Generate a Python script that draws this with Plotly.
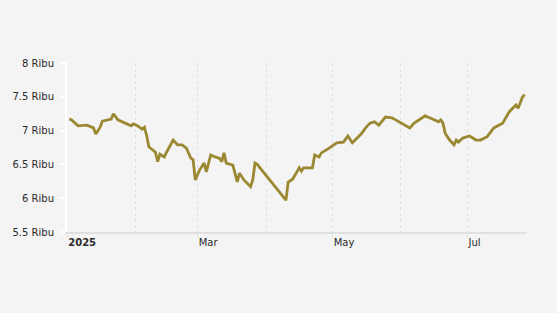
import plotly.graph_objects as go

dates = [
    "2025-01-02", "2025-01-03", "2025-01-06", "2025-01-08", "2025-01-10", "2025-01-13",
    "2025-01-14", "2025-01-16", "2025-01-17", "2025-01-21", "2025-01-22", "2025-01-24",
    "2025-01-30", "2025-01-31", "2025-02-02", "2025-02-04", "2025-02-05", "2025-02-06",
    "2025-02-07", "2025-02-10", "2025-02-11", "2025-02-12", "2025-02-14", "2025-02-15",
    "2025-02-18", "2025-02-20", "2025-02-22", "2025-02-24", "2025-02-26", "2025-02-27",
    "2025-02-28", "2025-03-02", "2025-03-04", "2025-03-05", "2025-03-06", "2025-03-07",
    "2025-03-09", "2025-03-11", "2025-03-12", "2025-03-13", "2025-03-14", "2025-03-17",
    "2025-03-19", "2025-03-20", "2025-03-22", "2025-03-24", "2025-03-25", "2025-03-26",
    "2025-03-27", "2025-03-28", "2025-04-10", "2025-04-11", "2025-04-13", "2025-04-15",
    "2025-04-16", "2025-04-17", "2025-04-18", "2025-04-22", "2025-04-23", "2025-04-25",
    "2025-04-26", "2025-04-29", "2025-05-03", "2025-05-06", "2025-05-08", "2025-05-10",
    "2025-05-14", "2025-05-16", "2025-05-18", "2025-05-20", "2025-05-22", "2025-05-25",
    "2025-05-28", "2025-05-29", "2025-06-05", "2025-06-07", "2025-06-12", "2025-06-13",
    "2025-06-14", "2025-06-18", "2025-06-19", "2025-06-20", "2025-06-21", "2025-06-23",
    "2025-06-25", "2025-06-26", "2025-06-27", "2025-06-29", "2025-07-02", "2025-07-05",
    "2025-07-07", "2025-07-10", "2025-07-13", "2025-07-17", "2025-07-20", "2025-07-23",
    "2025-07-24", "2025-07-26", "2025-07-27",
]
values = [
    7.17, 7.16, 7.07, 7.07, 7.08, 7.04,
    6.95, 7.05, 7.14, 7.17, 7.25, 7.16,
    7.07, 7.10, 7.07, 7.02, 7.05, 6.93,
    6.76, 6.68, 6.54, 6.65, 6.61, 6.68,
    6.86, 6.79, 6.79, 6.74, 6.59, 6.57,
    6.27, 6.42, 6.52, 6.39, 6.54, 6.64,
    6.61, 6.59, 6.54, 6.67, 6.52, 6.49,
    6.24, 6.37, 6.27, 6.21, 6.17, 6.27,
    6.52, 6.50, 5.97, 6.24, 6.28, 6.39,
    6.45, 6.40, 6.45, 6.45, 6.64, 6.61,
    6.67, 6.73, 6.82, 6.83, 6.92, 6.82,
    6.95, 7.04, 7.11, 7.13, 7.08, 7.20,
    7.19, 7.17, 7.04, 7.11, 7.22, 7.20,
    7.19, 7.13, 7.16, 7.11, 6.96, 6.86,
    6.79, 6.86, 6.83, 6.89, 6.92, 6.86,
    6.86, 6.91, 7.04, 7.11, 7.28, 7.38,
    7.33, 7.50, 7.53,
]

x_tickvals = ["2025-01-01", "2025-03-01", "2025-05-01", "2025-07-01"]
x_ticktext = ["<b>2025</b>", "Mar", "May", "Jul"]
y_tickvals = [5.5, 6, 6.5, 7, 7.5, 8]
y_ticktext = ["5.5 Ribu", "6 Ribu", "6.5 Ribu", "7 Ribu", "7.5 Ribu", "8 Ribu"]

fig = go.Figure()
fig.add_trace(go.Scatter(
    x=dates, y=values, mode="lines",
    line=dict(color="#9a8832", width=2.8),
    hoverinfo="skip",
))

grid_col = "#e0e0e0"
fig.update_layout(
    width=557, height=313,
    margin=dict(l=67, r=30, t=63, b=81),
    paper_bgcolor="#f4f4f4", plot_bgcolor="#f4f4f4",
    showlegend=False,
    font=dict(family="DejaVu Sans", size=10, color="#2b2b2b"),
    xaxis=dict(
        type="date",
        range=["2025-01-01", "2025-07-28"],
        tickvals=x_tickvals, ticktext=x_ticktext,
        ticklabelposition="outside right",
        ticks="outside", ticklen=4, tickcolor=grid_col, tickwidth=1,
        showgrid=True, gridcolor=grid_col, griddash="3px,3px", gridwidth=1,
        minor=dict(dtick="M1", tick0="2025-01-01", showgrid=True,
                   gridcolor=grid_col, griddash="3px,3px", gridwidth=1, ticks=""),
        showline=True, linecolor=grid_col, linewidth=1.5,
        zeroline=False, fixedrange=True,
    ),
    yaxis=dict(
        range=[5.5, 8],
        tickvals=y_tickvals, ticktext=y_ticktext,
        ticks="outside", ticklen=5, tickcolor="#ffffff", tickwidth=1.5,
        ticklabelstandoff=4,
        showgrid=False, zeroline=False,
        showline=True, linecolor="#ffffff", linewidth=2,
        fixedrange=True,
    ),
)

fig.write_html("out.html")
